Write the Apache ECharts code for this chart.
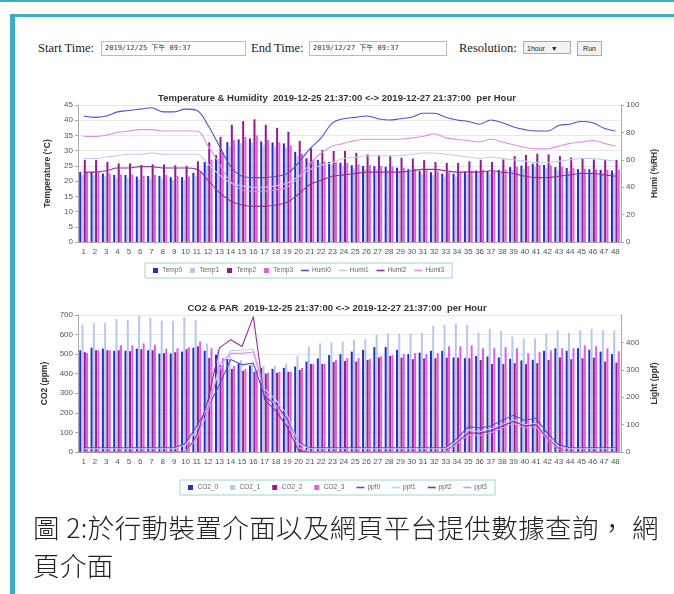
<!DOCTYPE html>
<html>
<head>
<meta charset="utf-8">
<script src="https://cdn.jsdelivr.net/npm/echarts@6/dist/echarts.min.js"></script>
<style>
  body { margin: 0; background: #fff; width: 674px; height: 594px; overflow: hidden; position: relative; }
  .topline { position: absolute; left: 0; top: 0; width: 674px; height: 2px; background: #3fabc4; }
  .frame { position: absolute; left: 10px; top: 14px; width: 700px; height: 600px; border-left: 5px solid #3fabc4; border-top: 3px solid #3fabc4; }
  .form { position: absolute; top: 41px; left: 38px; font-family: "Liberation Serif", serif; font-size: 12.5px; color: #222; white-space: nowrap; }
  .form span, .form div { position: absolute; top: 0; }
  .inp { height: 13px; border: 1px solid #bbb; font-family: "DejaVu Sans Mono", "Noto Sans CJK TC", monospace; font-size: 7px; line-height: 13px; padding-left: 3px; color: #333; box-sizing: content-box; }
  .btn { height: 13px; border: 1px solid #aaa; background: #f2f2f2; font-family: "Liberation Sans", sans-serif; font-size: 7px; line-height: 13px; text-align: center; color: #222; }
  #chart { position: absolute; left: 0; top: 0; width: 674px; height: 594px; }
  .caption { position: absolute; left: 33px; top: 508px; width: 640px; font-family: "Noto Sans CJK TC", sans-serif; font-weight: 300; font-size: 26.5px; letter-spacing: 0.4px; line-height: 38px; color: #222; }
</style>
</head>
<body>
<div class="topline"></div>
<div class="frame"></div>
<div class="form">
  <span style="left:0;line-height:15px">Start Time:</span>
  <div class="inp" style="left:63px;width:140px">2019/12/25 下午 09:37</div>
  <span style="left:213px;line-height:15px">End Time:</span>
  <div class="inp" style="left:271px;width:133px">2019/12/27 下午 09:37</div>
  <span style="left:421px;line-height:15px">Resolution:</span>
  <div class="btn" style="left:485px;width:48px;text-align:left;padding-left:3px;box-sizing:border-box">1hour &nbsp;&nbsp;▼</div>
  <div class="btn" style="left:539px;width:23px">Run</div>
</div>
<div id="chart"></div>
<div class="caption">圖 2:於行動裝置介面以及網頁平台提供數據查詢， 網<br>頁介面</div>
<script>
// x 軸：每小時一格
var categories = ['1','2','3','4','5','6','7','8','9','10','11','12','13','14','15','16','17','18','19','20','21','22','23','24',
  '25','26','27','28','29','30','31','32','33','34','35','36','37','38','39','40','41','42','43','44','45','46','47','48'];

// 溫度 (°C)
var temp0 = [23,23,22.5,22,22,21.5,21.7,21.7,21.3,21.3,22.7,26.3,28.5,32.8,33.7,34,33,32.7,32.4,29.6,27.5,27,26.3,26,
  25.2,25,24.9,24.7,24.4,23.9,23.3,22.9,22.4,22.4,23.2,23.5,23.3,23.7,24.6,25.1,25.7,25.3,24.6,24.3,23.9,23.9,23.7,23.5];
var temp1 = [22,22,21.6,21,21,20.6,20.8,20.8,20.4,20.4,21.8,25.2,27.4,31.5,32.4,32.7,31.7,31.4,31.1,28.4,26.4,26,25.3,25,
  24.2,24,23.9,23.7,23.4,22.9,22.4,22,21.5,21.5,22.3,22.6,22.4,22.8,23.6,24.1,24.7,24.3,23.6,23.3,23,23,22.8,22.6];
var temp2 = [27,27,26.3,25.8,25.8,25.3,25.5,25.5,25.2,25,26.5,32.7,34.5,38.5,39.7,40.3,38.5,37.5,36.2,33.2,30.8,30.2,29.9,29.9,
  29.3,28.8,28.5,28.2,27.7,27.4,26.9,26.3,26,26,26.5,27,26.3,27.1,28.2,28.6,29,28.8,28.2,27.7,27.4,27.1,27,27];
var temp3 = [23,23,22.5,22.2,22.2,21.8,22,22,21.7,21.5,22.8,27,29.5,33.5,34.5,35,33.5,32.8,31.8,29,27,26.5,26.2,26,
  25.5,25.2,25,24.8,24.4,24,23.6,23.2,22.9,22.9,23.3,23.7,23.2,23.8,24.7,25,25.3,25.2,24.7,24.3,24.1,23.9,23.8,23.8];

// 濕度 (%RH)
var humi0 = [92,91,92,95,96,97,98,95,95,97,96,85,70,55,48,47,47,48,50,58,68,76,87,90,
  91,92,90,89,90,91,94,94,91,89,88,86,89,87,84,82,81,81,85,86,88,87,83,81];
var humi1 = [61,61,62,63,64,64,65,64,64,64,64,57,49,43,41,40,40,41,43,48,53,56,58,61,
  62,63,63,63,63,64,65,65,64,63,62,61,62,61,60,59,58,58,59,60,61,61,60,59];
var humi2 = [51,51,52,54,54,55,55,54,54,54,53,45,36,30,27,26,26,27,29,35,42,45,48,49,
  50,51,51,51,51,52,53,53,52,51,51,51,52,51,50,48,47,47,48,49,50,50,49,48];
var humi3 = [77,77,78,80,81,82,82,81,81,81,81,70,57,44,38,37,37,38,40,47,57,65,70,72,
  74,75,75,75,75,76,77,79,76,75,74,73,75,73,71,69,68,68,70,72,73,74,72,70];

// CO2 (ppm)
var co2_0 = [520,533,528,517,517,528,520,503,503,513,533,517,497,475,453,442,428,425,430,437,462,478,495,500,
  513,522,536,536,522,500,508,517,517,483,480,491,488,483,476,468,471,517,530,517,530,522,513,500];
var co2_1 = [650,660,660,680,675,695,685,670,670,690,675,555,520,495,470,455,440,440,450,490,540,555,560,565,
  573,576,598,605,605,605,610,645,650,655,650,610,628,617,590,580,580,605,622,610,622,628,622,622];
var co2_2 = [510,520,520,520,515,525,520,505,510,525,540,480,445,425,415,410,400,405,410,420,450,450,460,465,
  462,470,483,491,482,474,479,479,482,482,479,470,450,450,454,449,454,470,483,474,479,482,462,457];
var co2_3 = [505,520,520,545,545,555,548,528,530,535,565,530,480,440,425,420,405,410,410,430,450,450,470,480,
  480,475,490,495,500,505,500,505,540,540,545,530,530,535,530,505,510,520,530,530,545,540,530,515];

// 光照 (ppf)
var ppf0 = [15,15,15,15,15,15,15,15,15,32,95,165,245,338,318,325,200,175,120,35,15,15,15,15,
  15,15,15,15,15,15,15,15,15,50,92,88,95,116,134,116,123,68,26,15,15,15,15,15];
var ppf1 = [12,12,12,12,12,12,12,12,12,25,80,170,300,370,372,375,230,190,135,30,12,12,12,12,
  12,12,12,12,12,12,12,12,12,40,80,75,85,100,118,100,105,55,20,12,12,12,12,12];
var ppf2 = [0,0,0,0,0,0,0,0,0,0,60,190,380,410,385,494,190,150,90,5,0,0,0,0,
  0,0,0,0,0,0,0,0,0,35,70,68,78,95,112,95,100,50,12,0,0,0,0,0];
var ppf3 = [0,0,0,0,0,0,0,0,0,0,50,150,320,360,360,365,215,170,110,15,0,0,0,0,
  0,0,0,0,0,0,0,0,0,30,62,60,70,88,104,88,92,45,10,0,0,0,0,0];

var colors = ['#2b2bbd', '#b7c8ec', '#931c93', '#e05ee0'];
var lineColors = ['#5050d0', '#c0cdef', '#9a2a9a', '#e58fe5'];
var font = '"Liberation Sans", Arial, sans-serif';

function barSeries(name, data, color, axis) {
  return {
    name: name, type: 'bar', data: data,
    xAxisIndex: axis, yAxisIndex: axis * 2,
    barGap: '12%', barCategoryGap: '22%',
    itemStyle: { color: color }
  };
}
function lineSeries(name, data, color, axis, smooth) {
  return {
    name: name, type: 'line', data: data,
    xAxisIndex: axis, yAxisIndex: axis * 2 + 1,
    smooth: smooth, showSymbol: false, z: 5,
    lineStyle: { color: color, width: 1.1 },
    itemStyle: { color: color }
  };
}
function yAxis(gridIndex, pos, max, interval, name, gap, split) {
  return {
    type: 'value', gridIndex: gridIndex, position: pos,
    min: 0, max: max, interval: interval,
    name: name, nameLocation: 'middle', nameGap: gap, nameRotate: 90,
    nameTextStyle: { fontFamily: font, fontWeight: 'bold', fontSize: 8.5, color: '#333' },
    axisLine: { show: true, lineStyle: { color: '#aaa' } },
    axisTick: { show: true, length: 3, lineStyle: { color: '#aaa' } },
    axisLabel: { fontFamily: font, fontSize: 8, color: '#555', margin: 5 },
    splitLine: { show: split, lineStyle: { color: '#e8e8e8' } }
  };
}
function xAxis(gridIndex) {
  return {
    type: 'category', gridIndex: gridIndex, data: categories,
    axisLine: { lineStyle: { color: '#aaa' } },
    axisTick: { show: false },
    axisLabel: { interval: 0, fontFamily: font, fontSize: 8, color: '#555', margin: 6 }
  };
}
var sq = 'path://M0,0L6,0L6,6L0,6Z';
var ln = 'path://M0,0L10,0L10,2L0,2Z';
function legend(names, left, top, gap) {
  return {
    left: left, top: top,
    padding: [4, 8], itemGap: gap, itemWidth: 8, itemHeight: 5,
    borderColor: '#9ed6cb', borderWidth: 1,
    textStyle: { fontFamily: font, fontSize: 6.5, color: '#666', padding: [0, 0, 0, -2] },
    data: names.map(function (n, i) { return { name: n, icon: i < 4 ? sq : ln }; })
  };
}

var chart = echarts.init(document.getElementById('chart'));
chart.setOption({
  animation: false,
  title: [
    { text: 'Temperature & Humidity  2019-12-25 21:37:00 <-> 2019-12-27 21:37:00  per Hour', left: 'center', top: 88,
      textStyle: { fontFamily: font, fontWeight: 'bold', fontSize: 9.5, color: '#333' } },
    { text: 'CO2 & PAR  2019-12-25 21:37:00 <-> 2019-12-27 21:37:00  per Hour', left: 'center', top: 298,
      textStyle: { fontFamily: font, fontWeight: 'bold', fontSize: 9.5, color: '#333' } }
  ],
  legend: [
    legend(['Temp0','Temp1','Temp2','Temp3','Humi0','Humi1','Humi2','Humi3'], 145, 263, 8),
    legend(['CO2_0','CO2_1','CO2_2','CO2_3','ppf0','ppf1','ppf2','ppf3'], 180, 480, 12)
  ],
  grid: [
    { left: 78, right: 53, top: 105, height: 137 },
    { left: 78, right: 53, top: 315, height: 137 }
  ],
  xAxis: [xAxis(0), xAxis(1)],
  yAxis: [
    yAxis(0, 'left', 45, 5, 'Temperature (°C)', 26, true),
    yAxis(0, 'right', 100, 20, 'Humi (%RH)', 22, false),
    yAxis(1, 'left', 700, 100, 'CO2 (ppm)', 28, true),
    yAxis(1, 'right', 500, 100, 'Light (ppf)', 22, false)
  ],
  series: [
    barSeries('Temp0', temp0, colors[0], 0),
    barSeries('Temp1', temp1, colors[1], 0),
    barSeries('Temp2', temp2, colors[2], 0),
    barSeries('Temp3', temp3, colors[3], 0),
    lineSeries('Humi0', humi0, lineColors[0], 0, 0.4),
    lineSeries('Humi1', humi1, lineColors[1], 0, 0.4),
    lineSeries('Humi2', humi2, lineColors[2], 0, 0.4),
    lineSeries('Humi3', humi3, lineColors[3], 0, 0.4),
    barSeries('CO2_0', co2_0, colors[0], 1),
    barSeries('CO2_1', co2_1, colors[1], 1),
    barSeries('CO2_2', co2_2, colors[2], 1),
    barSeries('CO2_3', co2_3, colors[3], 1),
    lineSeries('ppf0', ppf0, lineColors[0], 1, false),
    lineSeries('ppf1', ppf1, lineColors[1], 1, false),
    lineSeries('ppf2', ppf2, lineColors[2], 1, false),
    lineSeries('ppf3', ppf3, lineColors[3], 1, false)
  ]
});
chart.setOption({ yAxis: [{}, {}, {}, { axisLabel: { showMaxLabel: false } }] });
</script>
</body>
</html>
